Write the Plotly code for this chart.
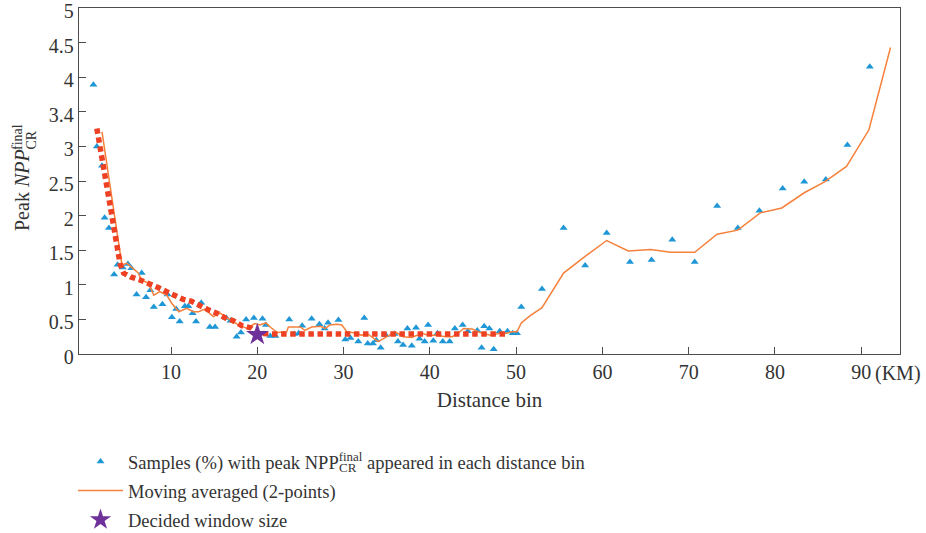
import plotly.graph_objects as go

# ---- data ----
sample_x = [1.0, 1.4, 2.0, 2.3, 2.8, 3.4, 3.8, 4.4, 5.0, 5.4, 6.0, 6.6, 7.1, 7.6, 8.0, 9.0, 9.6,
            10.1, 10.6, 11.0, 11.6, 12.0, 12.5, 12.9, 13.5, 14.5, 15.1, 16.4, 16.9, 17.6, 18.1, 18.7,
            19.6, 20.6, 21.0, 21.5, 22.1, 23.7, 24.3, 24.8, 25.2, 26.3, 27.2, 27.8, 28.2, 29.4, 30.2,
            30.8, 31.7, 32.4, 32.8, 33.4, 33.8, 34.3, 34.9, 35.9, 36.3, 36.9, 37.4, 37.9, 38.4, 38.8,
            39.4, 39.8, 40.4, 40.9, 41.5, 42.3, 42.9, 43.8, 44.4, 45.5, 46.0, 46.3, 46.9, 47.4, 48.1,
            49.0, 49.6, 50.1, 50.6, 53.0, 55.5, 58.0, 60.5, 63.2, 65.7, 68.1, 70.7, 73.3, 75.7, 78.2,
            80.9, 83.4, 85.9, 88.4, 91.0]
sample_y = [3.89, 3.00, 2.72, 1.97, 1.82, 1.15, 1.29, 1.25, 1.30, 1.24, 0.86, 1.17, 0.82, 0.92, 0.68, 0.72, 0.86,
            0.53, 0.65, 0.47, 0.69, 0.69, 0.59, 0.47, 0.74, 0.39, 0.39, 0.52, 0.48, 0.25, 0.31, 0.50,
            0.52, 0.51, 0.42, 0.26, 0.26, 0.50, 0.29, 0.30, 0.41, 0.51, 0.43, 0.37, 0.45, 0.49, 0.21,
            0.23, 0.18, 0.52, 0.15, 0.15, 0.20, 0.09, 0.27, 0.29, 0.18, 0.13, 0.37, 0.12, 0.38, 0.22,
            0.18, 0.42, 0.19, 0.30, 0.18, 0.18, 0.37, 0.42, 0.33, 0.34, 0.09, 0.40, 0.37, 0.07, 0.33,
            0.33, 0.30, 0.30, 0.68, 0.94, 1.82, 1.28, 1.75, 1.33, 1.36, 1.65, 1.33, 2.14, 1.82, 2.07,
            2.39, 2.49, 2.52, 3.02, 4.15]

avg_x = [2.0, 4.3, 4.9, 5.4, 6.2, 6.6, 7.4, 8.0, 8.7, 9.5, 10.1, 10.9, 11.8, 12.6, 13.2, 13.9,
         14.9, 15.7, 16.5, 17.0, 17.8, 18.8, 19.7, 20.3, 21.0, 21.5, 22.3, 23.4, 23.6, 25.0, 25.5,
         26.3, 27.3, 27.9, 28.4, 29.2, 29.8, 30.4, 31.5, 32.1, 32.7, 34.0, 35.4, 36.0, 36.9, 37.9,
         39.1, 39.8, 40.8, 41.8, 42.6, 43.3, 43.9, 44.9, 45.8, 47.0, 48.1, 48.9, 49.5, 50.1, 50.6,
         51.6, 53.0, 55.5, 58.0, 60.5, 63.0, 65.6, 67.9, 70.7, 73.3, 75.7, 78.3, 80.8, 83.4, 85.8,
         88.3, 90.9, 93.4]
avg_y = [3.21, 1.29, 1.31, 1.26, 1.17, 1.07, 1.02, 0.85, 0.90, 0.85, 0.73, 0.61, 0.66, 0.61, 0.61, 0.65,
         0.54, 0.59, 0.52, 0.49, 0.42, 0.37, 0.44, 0.42, 0.45, 0.39, 0.31, 0.32, 0.39, 0.39, 0.34,
         0.39, 0.40, 0.37, 0.42, 0.43, 0.42, 0.32, 0.30, 0.27, 0.30, 0.18, 0.27, 0.32, 0.25, 0.24,
         0.30, 0.27, 0.27, 0.25, 0.25, 0.30, 0.37, 0.36, 0.31, 0.27, 0.30, 0.30, 0.32, 0.32, 0.45,
         0.55, 0.67, 1.17, 1.41, 1.64, 1.49, 1.51, 1.47, 1.47, 1.73, 1.79, 2.04, 2.11, 2.33, 2.49,
         2.71, 3.24, 4.43]

fit_x = [1.4, 4.1, 4.5, 5.4, 6.4, 7.5, 8.5, 9.5, 10.5, 11.4, 12.4, 13.4, 14.3, 15.3, 16.3, 17.2,
         18.2, 19.2, 20.0, 21.4, 49.0]
fit_y = [3.26, 1.30, 1.17, 1.11, 1.07, 1.02, 0.96, 0.90, 0.84, 0.79, 0.76, 0.69, 0.64, 0.59, 0.52, 0.48,
         0.41, 0.38, 0.30, 0.29, 0.29]

window_x = [20.0]
window_y = [0.28]

y_tickvals = [0, 0.5, 1, 1.5, 2, 2.5, 3, 3.5, 4, 4.5, 5]
y_ticktext = ["0", "0.5", "1", "1.5", "2", "2.5", "3", "3.4", "4", "4.5", "5"]
x_tickvals = [10, 20, 30, 40, 50, 60, 70, 80, 90]
x_ticktext = ["10", "20", "30", "40", "50", "60", "70", "80", "90"]

FONT = "Liberation Serif"
TXT = "#333333"

fig = go.Figure()
fig.add_trace(go.Scatter(
    x=sample_x, y=sample_y, mode="markers",
    marker=dict(symbol="triangle-up", size=7, color="#1f97d6"),
    name="Samples (%) with peak NPP<sup>final</sup> appeared in each distance bin",
    legendgroup="a"))
fig.add_trace(go.Scatter(
    x=avg_x, y=avg_y, mode="lines",
    line=dict(color="#f5813c", width=1.5),
    name="Moving averaged (2-points)", legendgroup="b"))
fig.add_trace(go.Scatter(
    x=fit_x, y=fit_y, mode="lines",
    line=dict(color="#ee4124", width=5.5, dash="5.5px,3.6px"),
    showlegend=False, hoverinfo="skip"))
fig.add_trace(go.Scatter(
    x=window_x, y=window_y, mode="markers",
    marker=dict(symbol="star", size=17, color="#6e3199"),
    name="Decided window size", legendgroup="c"))

axis_common = dict(showline=True, linecolor="#4d4d4d", linewidth=1.3, mirror=True,
                   ticks="inside", ticklen=7, tickcolor="#4d4d4d", tickwidth=1.3,
                   showgrid=False, zeroline=False, ticklabeloverflow="allow",
                   tickfont=dict(family=FONT, size=20, color=TXT))

fig.update_xaxes(range=[-0.67, 94.5], tickvals=x_tickvals, ticktext=x_ticktext,
                 title=dict(text="Distance bin", font=dict(family=FONT, size=21, color=TXT), standoff=10),
                 **axis_common)
fig.update_yaxes(range=[0, 5], tickvals=y_tickvals, ticktext=y_ticktext, ticklabelshift=3,
                 **axis_common)

def px_x(px):
    return (px - 79) / 821.0

def px_y(py):
    return (354 - py) / 346.0

annotations = [
    dict(text="Peak <i>NPP</i>", textangle=-90, xref="paper", yref="paper",
         x=px_x(22), y=px_y(233), xanchor="center", yanchor="bottom", showarrow=False,
         font=dict(family=FONT, size=20, color=TXT)),
    dict(text="final", textangle=-90, xref="paper", yref="paper",
         x=px_x(17), y=px_y(152), xanchor="center", yanchor="bottom", showarrow=False,
         font=dict(family=FONT, size=14, color=TXT)),
    dict(text="CR", textangle=-90, xref="paper", yref="paper",
         x=px_x(31), y=px_y(152), xanchor="center", yanchor="bottom", showarrow=False,
         font=dict(family=FONT, size=14, color=TXT)),
    dict(text="(KM)", xref="x", yref="paper", x=90, y=px_y(360),
         xanchor="left", yanchor="top", xshift=12, showarrow=False,
         font=dict(family=FONT, size=20, color=TXT)),
    dict(text="CR", xref="paper", yref="paper", x=px_x(336.5), y=px_y(467),
         xanchor="left", yanchor="middle", showarrow=False,
         font=dict(family=FONT, size=13, color=TXT)),
]

fig.update_layout(
    width=926, height=533,
    margin=dict(l=79, r=26, t=8, b=179, autoexpand=False),
    paper_bgcolor="white", plot_bgcolor="white",
    font=dict(family=FONT, color=TXT),
    showlegend=True,
    legend=dict(x=px_x(73), y=px_y(443), xanchor="left", yanchor="top",
                traceorder="grouped", tracegroupgap=2, itemwidth=45,
                font=dict(family=FONT, size=18.5, color=TXT),
                bgcolor="rgba(0,0,0,0)"),
    annotations=annotations,
)

fig.write_html("out.html")
